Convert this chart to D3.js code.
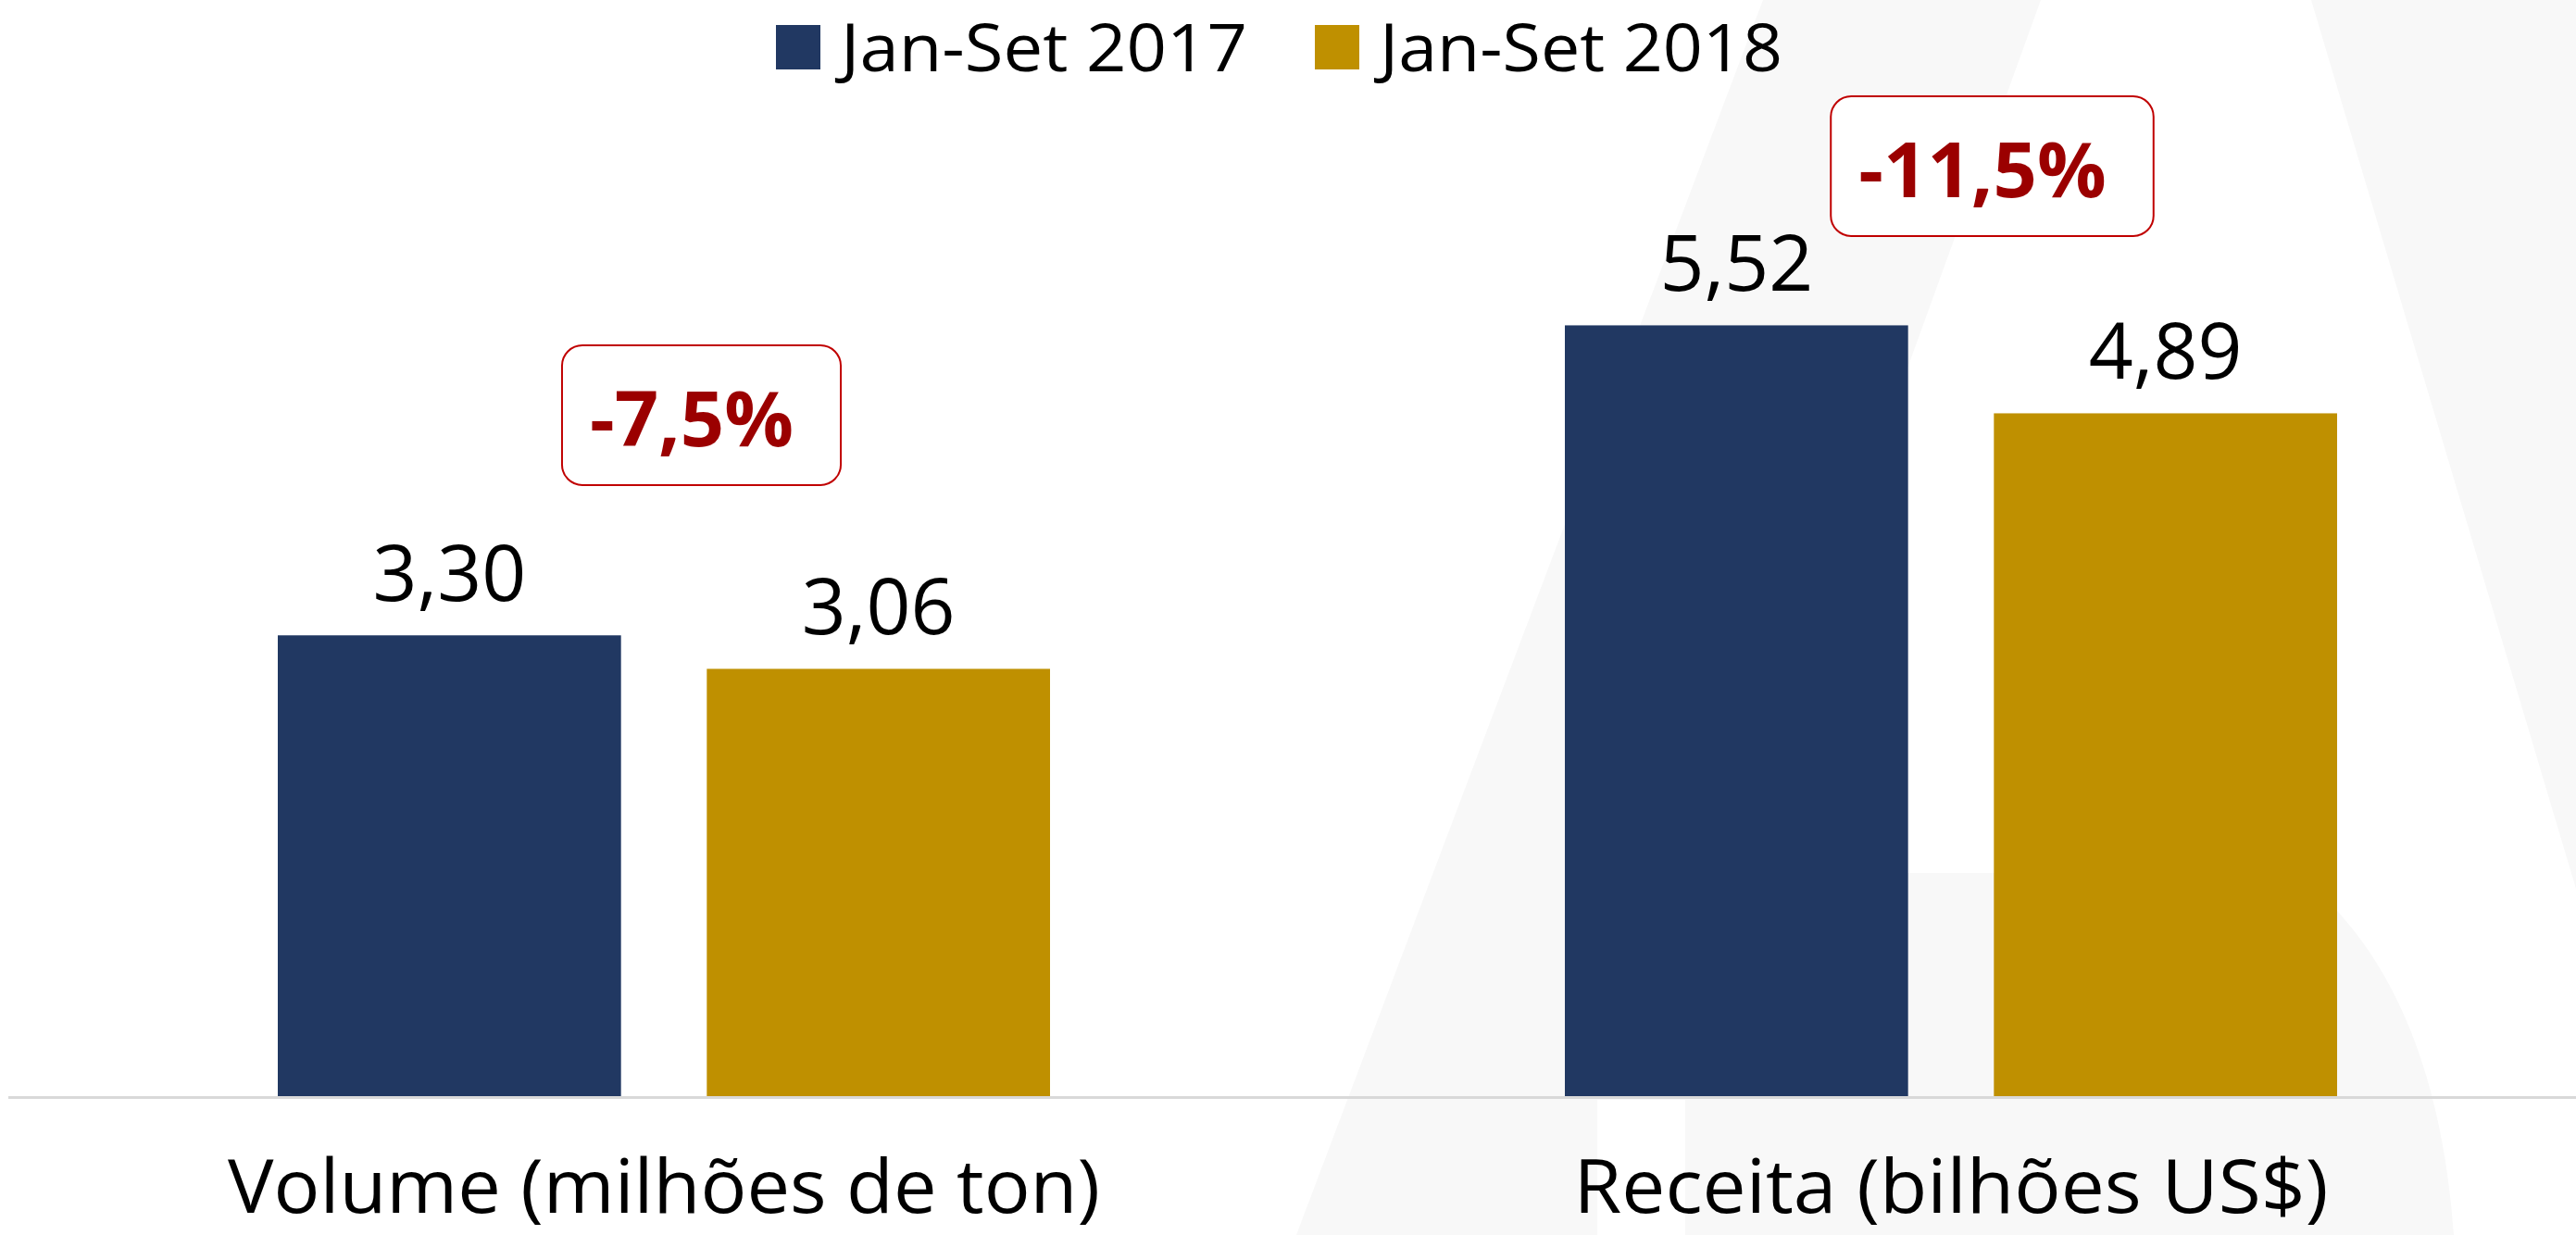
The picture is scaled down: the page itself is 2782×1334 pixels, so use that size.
<!DOCTYPE html>
<html>
<head>
<meta charset="utf-8">
<script src="https://cdn.jsdelivr.net/npm/d3@7"></script>
<style>
  html, body { margin: 0; padding: 0; background: #fff; }
  svg { display: block; font-family: "Open Sans", "Noto Sans", sans-serif; }
</style>
</head>
<body>
<div id="chart"></div>
<script>
// chart data
const categories = ["Volume (milhões de ton)", "Receita (bilhões US$)"];
const series = ["Jan-Set 2017", "Jan-Set 2018"];
const values2017 = [3.30, 5.52];
const values2018 = [3.06, 4.89];
const changes = ["-7,5%", "-11,5%"];
const colors = ["#213862", "#BF9000"];

const W = 2782, H = 1334;
const baseY = 1184;

var svg = d3.select("#chart")
    .append("svg")
    .attr("width", W)
    .attr("height", H);

// faint background picture (grey "A" shape)
var bg = svg.append("g").attr("fill", "#f8f8f8");
bg.append("path").attr("d", "M1904,0 L2204,0 L1721,1334 L1400,1334 Z");
bg.append("path").attr("d", "M1640,943 L2480,943 Q2630,1060 2650,1334 L1560,1334 Z");
bg.append("path").attr("d", "M2496,0 L2782,0 L2782,960 Z");
bg.append("rect").attr("x", 1725).attr("y", 1188).attr("width", 95).attr("height", 146).attr("fill", "#fff");

// scales
const x0 = d3.scaleBand()
    .domain(categories)
    .range([22, 2802])
    .padding(0);

const x1 = d3.scaleBand()
    .domain(series)
    .range([0, x0.bandwidth()])
    .paddingInner(0.2)
    .paddingOuter(0.6);

const y = d3.scaleLinear()
    .domain([0, 7.85])
    .range([baseY, 0]);

const color = d3.scaleOrdinal().domain(series).range(colors);

const fmt = v => d3.format(".2f")(v).replace(".", ",");

const rows = categories.map((c, i) => ({
  cat: c,
  vals: [
    {s: series[0], v: values2017[i]},
    {s: series[1], v: values2018[i]}
  ]
}));

// bars
var groups = svg.selectAll(".grp")
    .data(rows)
    .enter().append("g")
    .attr("class", "grp")
    .attr("transform", d => "translate(" + x0(d.cat) + ",0)");

groups.selectAll("rect")
    .data(d => d.vals)
    .enter().append("rect")
    .attr("x", d => x1(d.s))
    .attr("y", d => y(d.v))
    .attr("width", x1.bandwidth())
    .attr("height", d => y(0) - y(d.v))
    .attr("fill", d => color(d.s));

groups.selectAll(".val")
    .data(d => d.vals)
    .enter().append("text")
    .attr("class", "val")
    .attr("x", d => x1(d.s) + x1.bandwidth() / 2)
    .attr("y", d => y(d.v) - 37)
    .attr("text-anchor", "middle")
    .style("font-size", "84px")
    .attr("fill", "#000")
    .text(d => fmt(d.v));

// baseline
svg.append("line")
    .attr("x1", 9).attr("x2", W)
    .attr("y1", baseY + 1.5).attr("y2", baseY + 1.5)
    .attr("stroke", "#d9d9d9")
    .attr("stroke-width", 3);

// category labels
const catWidths = [942, 815];
svg.selectAll(".cat")
    .data(categories)
    .enter().append("text")
    .attr("class", "cat")
    .attr("x", d => x0(d) + x0.bandwidth() / 2)
    .attr("y", 1310)
    .attr("text-anchor", "middle")
    .style("font-size", "80px")
    .attr("textLength", (d, i) => catWidths[i])
    .attr("lengthAdjust", "spacingAndGlyphs")
    .text(d => d);

// change annotations
const annoShift = [30, 34];   // text center offset from group center
const annoTop = [373, 104];
categories.forEach(function(c, i) {
  var cx = x0(c) + x0.bandwidth() / 2 + annoShift[i];
  var g = svg.append("g");
  var rect = g.append("rect");
  var t = g.append("text")
      .attr("x", cx)
      .attr("y", annoTop[i] + 109)
      .attr("text-anchor", "middle")
      .style("font-size", "83px")
      .style("font-weight", "bold")
      .attr("fill", "#9b0000")
      .text(changes[i]);
  var bb = t.node().getBBox();
  rect.attr("x", bb.x - 30)
      .attr("y", annoTop[i])
      .attr("width", bb.width + 81)
      .attr("height", 151)
      .attr("rx", 22)
      .attr("fill", "#fff")
      .attr("stroke", "#c00000")
      .attr("stroke-width", 2);
});

// legend
const legX = [838, 1420];
const legW = [439, 435];
var leg = svg.selectAll(".leg")
    .data(series)
    .enter().append("g")
    .attr("class", "leg")
    .attr("transform", (d, i) => "translate(" + legX[i] + ",0)");
leg.append("rect")
    .attr("x", 0).attr("y", 27)
    .attr("width", 48).attr("height", 48)
    .attr("fill", d => color(d));
leg.append("text")
    .attr("x", 70)
    .attr("y", 77)
    .style("font-size", "72px")
    .attr("fill", "#000")
    .attr("textLength", (d, i) => legW[i])
    .attr("lengthAdjust", "spacingAndGlyphs")
    .text(d => d);
</script>
</body>
</html>
